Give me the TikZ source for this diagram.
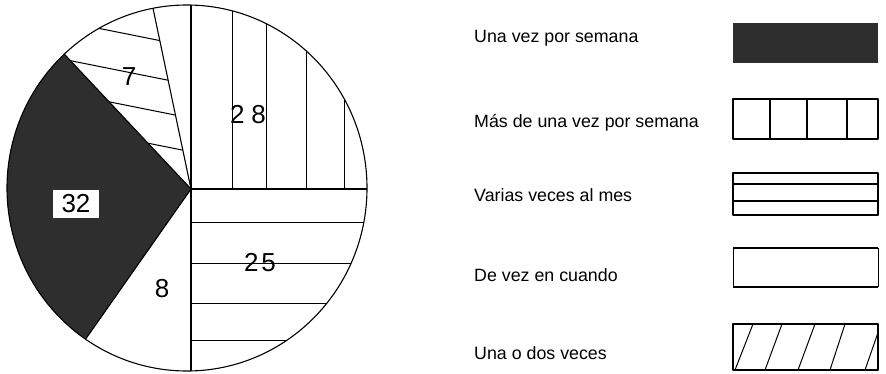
\documentclass[tikz,border=0pt]{standalone}
\usepackage{fontspec}
\setmainfont{Liberation Sans}
\usetikzlibrary{calc}
\begin{document}
\begin{tikzpicture}[x=1pt,y=1pt,line join=round,
  pieline/.style={line width=1.1pt},
  hatchline/.style={line width=1pt},
  darkfill/.style={fill=black!82},
  num/.style={font=\fontsize{26}{28}\selectfont,inner sep=1pt},
  legtext/.style={font=\fontsize{17.8}{20}\selectfont,anchor=west,inner sep=0pt},
  legbox/.style={line width=1.3pt}]
\useasboundingbox (0,0) rectangle (886,373);
% pie geometry
\coordinate (C) at (187,185);
\coordinate (V) at (191,184);
\coordinate (Pu) at (191,368);
\coordinate (Pr) at (367,184);
\coordinate (Pd) at (191,1);
\coordinate (Pll) at (85,33);
\coordinate (Pul) at (67,316);
\coordinate (Pu2) at (154,360);
\begin{scope}
  \clip (C) ellipse [x radius=180, y radius=183];
  % dark slice (32)
  \fill[darkfill] (V) -- ($(V)!2!(Pll)$) -- (-300,-118) -- (-300,448) -- ($(V)!2!(Pul)$) -- cycle;
  % vertical hatch (28)
  \foreach \xx in {232,266,306,344} \draw[hatchline] (\xx,184) -- (\xx,400);
  % horizontal hatch (25)
  \foreach \yy in {151,110,70,33} \draw[hatchline] (191,\yy) -- (400,\yy);
  % slanted hatch (7)
  \begin{scope}
    \clip (V) -- ($(V)!2!(Pul)$) -- ($(V)!2!(Pu2)$) -- cycle;
    \foreach \xx/\yy in {157/333,167/293,175/258,182/223}
      \draw[hatchline] (\xx-200,\yy+40) -- (\xx+100,\yy-20);
  \end{scope}
  % rays
  \foreach \p in {Pu,Pr,Pd,Pll,Pul,Pu2}
    \draw[pieline] (V) -- ($(V)!1.3!(\p)$);
\end{scope}
\draw[pieline] (C) ellipse [x radius=180, y radius=183];
% pie labels
\node[num] (l28) at (248,258) {2\hspace{7pt}8};
\node[num] (l7) at (129,296) {7};
\node[num,fill=white,minimum width=46pt,minimum height=28pt] (l32) at (76,169) {32};
\node[num] (l8) at (162,84) {8};
\node[num] (l25) at (260,110) {2\hspace{3pt}5};
% legend texts
\node[legtext] (t1) at (474,335) {Una vez por semana};
\node[legtext] (t2) at (474,250) {Más de una vez por semana};
\node[legtext] (t3) at (474,178) {Varias veces al mes};
\node[legtext] (t4) at (474,98) {De vez en cuando};
\node[legtext] (t5) at (474,20) {Una o dos veces};
% legend boxes
\fill[darkfill] (733,310) rectangle (878,350);
\draw[legbox] (733,234) rectangle (878,274);
\foreach \xx in {770,807,847} \draw[legbox] (\xx,234) -- (\xx,274);
\draw[legbox] (733,158) rectangle (878,200);
\foreach \yy in {189,172} \draw[legbox] (733,\yy) -- (878,\yy);
\draw[line width=2pt] (733,125) -- (878,125);
\draw[line width=2pt] (733,86) -- (878,86);
\draw[line width=0.7pt] (733,86) -- (733,125);
\draw[line width=0.7pt] (878,86) -- (878,125);
\draw[legbox] (733,3) rectangle (878,49);
\begin{scope}
  \clip (733,3) rectangle (878,49);
  \foreach \xb/\xt in {735/753,765/782,798/815,830/845,865/881}
    \draw[hatchline] (\xb,3) -- (\xt,49);
\end{scope}
\end{tikzpicture}
\end{document}
